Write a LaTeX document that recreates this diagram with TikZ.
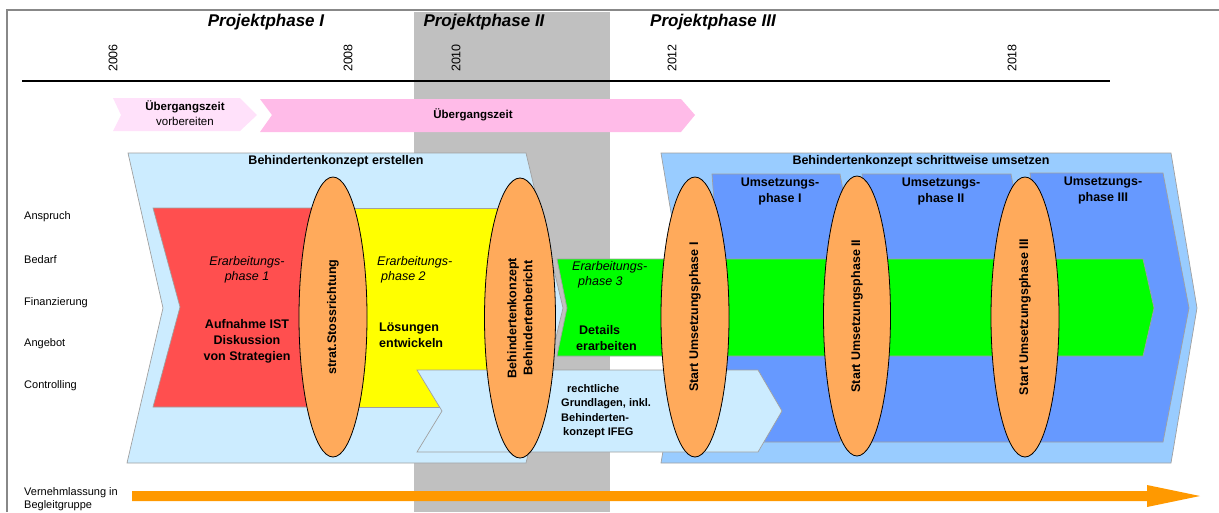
\documentclass[tikz,border=0pt]{standalone}
\usepackage{fontspec}
\setmainfont{Liberation Sans}
\usetikzlibrary{shapes.geometric}
\definecolor{framegray}{HTML}{888888}
\definecolor{bandgray}{HTML}{C0C0C0}
\definecolor{lpink}{HTML}{FFE1FA}
\definecolor{mpink}{HTML}{FFBBE8}
\definecolor{lblue}{HTML}{CCECFF}
\definecolor{mblue}{HTML}{99CCFF}
\definecolor{dblue}{HTML}{6699FF}
\definecolor{pred}{HTML}{FF4F4F}
\definecolor{pyellow}{HTML}{FFFF00}
\definecolor{pgreen}{HTML}{00FF00}
\definecolor{eorange}{HTML}{FFAA5B}
\definecolor{aorange}{HTML}{FF9900}
\definecolor{edgegray}{HTML}{A0A0A0}
\tikzset{
  shapeedge/.style={draw=edgegray, line width=0.7pt},
  phasetitle/.style={font=\bfseries\itshape\fontsize{17}{20}\selectfont, inner sep=0pt},
  yearlbl/.style={font=\fontsize{12.5}{14}\selectfont, rotate=90, inner sep=0pt},
  rowlbl/.style={font=\fontsize{11}{13}\selectfont, anchor=west, align=left, inner sep=0pt},
  boldtxt/.style={font=\bfseries\fontsize{12.5}{16}\selectfont, inner sep=0pt},
  itxt/.style={font=\itshape\fontsize{12.5}{15}\selectfont, inner sep=0pt},
  smallbold/.style={font=\bfseries\fontsize{11}{14.5}\selectfont, inner sep=0pt},
  milestone/.style={shape=ellipse, draw=black, line width=0.8pt, fill=eorange, rotate=90,
     inner sep=0pt, align=center, font=\bfseries\fontsize{12.5}{16}\selectfont},
}
\begin{document}
\begin{tikzpicture}[x=1pt,y=-1pt]
\useasboundingbox (0,0) rectangle (1219,512);
% background band
\fill[bandgray] (414,12) rectangle (610,512);
% frame
\draw[framegray, line width=2pt] (7,512) -- (7,10) -- (1219,10);
% timeline
\draw[black, line width=1.5pt] (22,81) -- (1110,81);
% phase titles
\node[phasetitle] (p1) at (266,22) {Projektphase I};
\node[phasetitle] (p2) at (484,22) {Projektphase II};
\node[phasetitle] (p3) at (713,22) {Projektphase III};
% years
\node[yearlbl] (y2006) at (113,58) {2006};
\node[yearlbl] (y2008) at (348,58) {2008};
\node[yearlbl] (y2010) at (456,58) {2010};
\node[yearlbl] (y2012) at (672,58) {2012};
\node[yearlbl] (y2018) at (1012,58) {2018};
% transition arrows
\fill[lpink] (113,98) -- (240,98) -- (257,115) -- (240,131) -- (113,131) -- (121,115) -- cycle;
\fill[mpink] (260,99) -- (681,99) -- (695,115) -- (681,132) -- (260,132) -- (272,115) -- cycle;
\node[font=\fontsize{11.5}{15}\selectfont, align=center, inner sep=0pt] (ueb1) at (185,113) {\textbf{Übergangszeit}\\vorbereiten};
\node[font=\bfseries\fontsize{11.5}{14}\selectfont, inner sep=0pt] (ueb2) at (473,115) {Übergangszeit};
% big background chevrons
\filldraw[fill=lblue, shapeedge] (128,153) -- (526,153) -- (563,308) -- (526,463) -- (127,463) -- (163,308) -- cycle;
\filldraw[fill=mblue, shapeedge] (661,153) -- (1171,153) -- (1197,308) -- (1171,463) -- (661,463) -- (687,308) -- cycle;
% implementation phases
\filldraw[fill=dblue, shapeedge] (712,174) -- (840,174) -- (865,308) -- (840,442) -- (712,442) -- (722,308) -- cycle;
\filldraw[fill=dblue, shapeedge] (862,174) -- (1011,174) -- (1036,308) -- (1011,442) -- (862,442) -- (880,308) -- cycle;
\filldraw[fill=dblue, shapeedge] (1030,173) -- (1163,173) -- (1189,308) -- (1163,442) -- (1030,442) -- (1045,308) -- cycle;
% work phases
\filldraw[fill=pred, shapeedge] (153,208) -- (320,208) -- (320,407) -- (153,407) -- (180,307) -- cycle;
\filldraw[fill=pyellow, shapeedge] (320,208) -- (505,208) -- (505,407) -- (320,407) -- cycle;
\filldraw[fill=pgreen, shapeedge] (557,259) -- (1143,259) -- (1154,308) -- (1143,356) -- (557,356) -- (567,308) -- cycle;
\filldraw[fill=lblue, shapeedge] (417,370) -- (758,370) -- (782,411) -- (758,452) -- (417,452) -- (442,411) -- cycle;
% headings
\node[boldtxt] (hd1) at (336,161) {Behindertenkonzept erstellen};
\node[boldtxt] (hd2) at (921,161) {Behindertenkonzept schrittweise umsetzen};
\node[boldtxt, align=center] (u1) at (780,191) {Umsetzungs-\\phase I};
\node[boldtxt, align=center] (u2) at (941,191) {Umsetzungs-\\phase II};
\node[boldtxt, align=center] (u3) at (1103,190) {Umsetzungs-\\phase III};
% phase texts
\node[itxt, align=center] (e1) at (247,270) {Erarbeitungs-\\phase 1};
\node[boldtxt, align=center] (t1) at (247,341) {Aufnahme IST\\Diskussion\\von Strategien};
\node[itxt, align=left, anchor=west] (e2) at (377,270) {Erarbeitungs-\\\hspace*{4pt}phase 2};
\node[boldtxt, align=left, anchor=west] (t2) at (379,335) {Lösungen\\entwickeln};
\node[itxt, align=left, anchor=west] (e3) at (572,275) {Erarbeitungs-\\\hspace*{6pt}phase 3};
\node[boldtxt, align=left, anchor=west] (t3) at (576,338) {\hspace*{3pt}Details\\erarbeiten};
\node[smallbold, align=left, anchor=west] (rg) at (561,411) {\hspace*{6pt}rechtliche\\Grundlagen, inkl.\\Behinderten-\\\hspace*{2pt}konzept IFEG};
% milestones
\node[milestone, minimum width=280pt, minimum height=68pt] (m1) at (333,317) {strat.Stossrichtung};
\node[milestone, minimum width=280pt, minimum height=71pt] (m2) at (520,318) {Behindertenkonzept\\Behindertenbericht};
\node[milestone, minimum width=280pt, minimum height=68pt] (m3) at (695,317) {Start Umsetzungsphase I};
\node[milestone, minimum width=280pt, minimum height=67pt] (m4) at (857,316) {Start Umsetzungsphase II};
\node[milestone, minimum width=280pt, minimum height=68pt] (m5) at (1025,317) {Start Umsetzungsphase III};
% row labels
\node[rowlbl] (r1) at (24,217) {Anspruch};
\node[rowlbl] (r2) at (24,260) {Bedarf};
\node[rowlbl] (r3) at (24,303) {Finanzierung};
\node[rowlbl] (r4) at (24,344) {Angebot};
\node[rowlbl] (r5) at (24,386) {Controlling};
\node[rowlbl, font=\fontsize{11}{12.5}\selectfont] (r6) at (24,499) {Vernehmlassung in\\Begleitgruppe};
% consultation arrow
\coordinate (vs) at (132,496);
\coordinate (ve) at (1200,496);
\fill[aorange] (132,491) -- (1147,491) -- (1147,485) -- (ve) -- (1147,507) -- (1147,501) -- (132,501) -- cycle;
\end{tikzpicture}
\end{document}
